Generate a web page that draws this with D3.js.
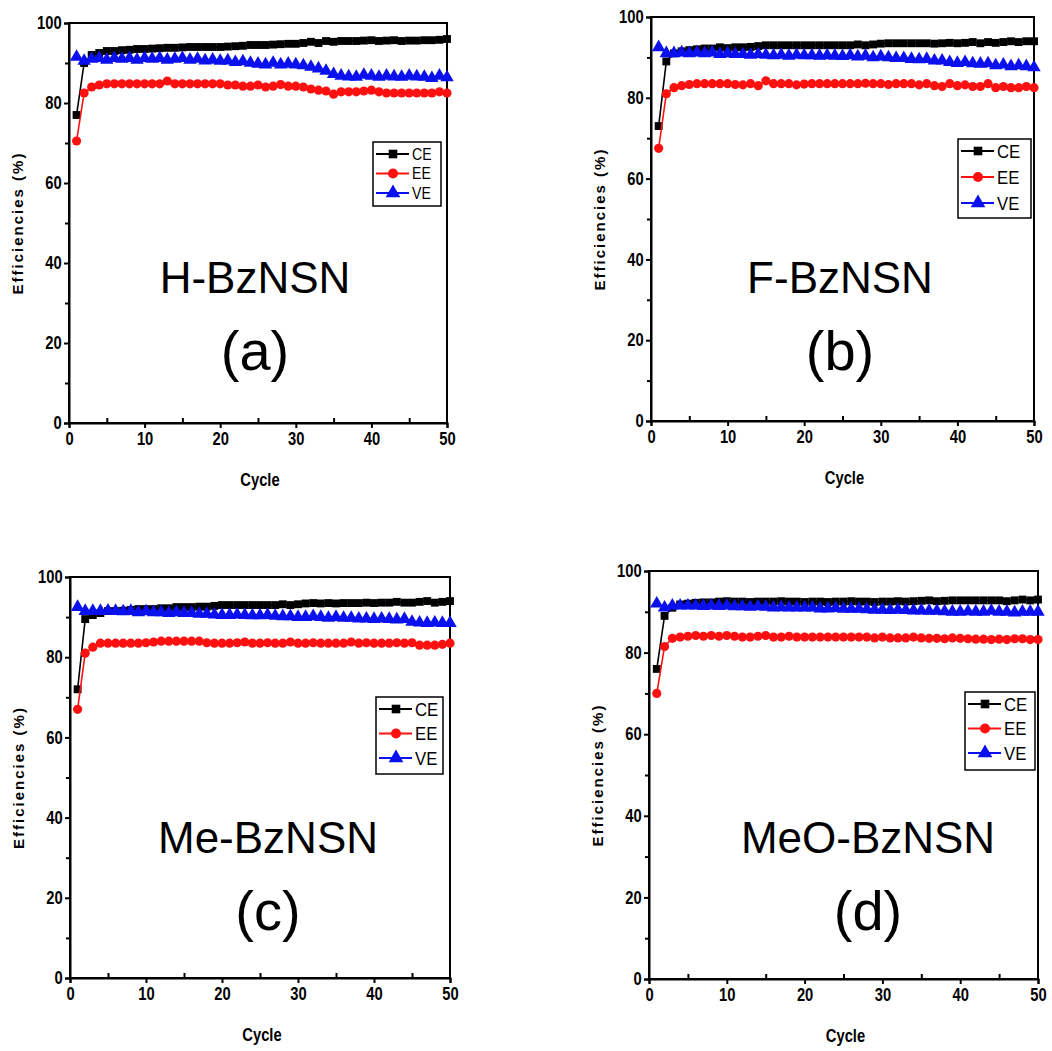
<!DOCTYPE html>
<html>
<head>
<meta charset="utf-8">
<script src="https://cdn.jsdelivr.net/npm/d3@7"></script>
<style>
body { margin: 0; background: #fff; }
svg { display: block; }
text { font-family: "Liberation Sans", Arial, sans-serif; }
</style>
</head>
<body>
<svg id="graphic" width="1052" height="1051"></svg>
<script>
var cycles = d3.range(1, 51);
var seriesNames = ["CE", "EE", "VE"];
var xTicks = [0, 10, 20, 30, 40, 50];
var yTicks = [0, 20, 40, 60, 80, 100];
var sampleNames = ["H-BzNSN", "F-BzNSN", "Me-BzNSN", "MeO-BzNSN"];
var panelTags = ["(a)", "(b)", "(c)", "(d)"];

// (a) H-BzNSN
var ceA = [77, 90, 92, 92.5, 93, 93, 93.2, 93.3, 93.5, 93.5, 93.6, 93.7, 93.8, 93.8, 93.9, 94, 94, 94, 94, 94,
	94.1, 94.2, 94.3, 94.5, 94.5, 94.5, 94.6, 94.7, 94.8, 94.8, 95, 95.3, 95, 95.5, 95.3, 95.5, 95.5, 95.5, 95.6, 95.7,
	95.5, 95.6, 95.7, 95.5, 95.6, 95.6, 95.7, 95.7, 95.8, 96];
var eeA = [70.5, 82.5, 84, 84.5, 84.8, 84.8, 84.8, 84.8, 84.8, 84.8, 84.8, 84.8, 85.5, 84.8, 84.8, 84.8, 84.8, 84.8, 84.8, 84.8,
	84.5, 84.5, 84.2, 84.2, 84.5, 84, 84.2, 84.6, 84.2, 84.2, 84, 83.5, 83.2, 83, 82.2, 82.8, 82.8, 82.8, 83, 83.2,
	82.8, 82.5, 82.5, 82.5, 82.5, 82.5, 82.5, 82.5, 82.8, 82.5];
var veA = [91.5, 90.5, 91, 91.2, 90.8, 91.2, 91, 91.2, 90.8, 91.2, 91, 91.2, 90.8, 91, 91.2, 90.8, 91, 90.6, 90.8, 90.5,
	90.6, 90.2, 90.4, 90, 89.8, 89.6, 90, 89.6, 89.8, 89.6, 89.4, 89, 88.6, 88, 87.2, 86.8, 86.6, 86.5, 87, 86.8,
	86.5, 86.8, 86.6, 86.5, 86.8, 86.6, 86.5, 86.2, 86.8, 86.4];

// (b) F-BzNSN
var ceB = [73, 89, 91, 91.5, 91.8, 92, 92.2, 92.2, 92.5, 92.3, 92.5, 92.5, 92.6, 92.8, 93, 93, 93, 93, 93, 93,
	93, 93, 93, 93, 93, 93, 93.2, 93, 93.2, 93.4, 93.5, 93.5, 93.5, 93.5, 93.5, 93.5, 93.4, 93.5, 93.6, 93.5,
	93.6, 93.8, 93.5, 93.8, 93.6, 93.8, 94, 93.8, 94, 94];
var eeB = [67.5, 81, 82.5, 83, 83.3, 83.5, 83.5, 83.5, 83.5, 83.5, 83.3, 83.2, 83.5, 83, 84.2, 83.5, 83.5, 83.5, 83.2, 83.4,
	83.5, 83.5, 83.5, 83.5, 83.5, 83.5, 83.5, 83.6, 83.5, 83.5, 83.3, 83.5, 83.5, 83.5, 83.2, 83.5, 83, 82.8, 83.5, 83,
	83.2, 82.8, 82.8, 83.5, 82.5, 82.8, 82.5, 82.5, 82.8, 82.5];
var veB = [92.5, 91, 91, 91.2, 91, 91.2, 91, 91.2, 90.8, 91, 90.8, 90.8, 90.6, 90.8, 90.6, 90.5, 90.6, 90.4, 90.6, 90.5,
	90.5, 90.4, 90.5, 90.4, 90.3, 90.5, 90.2, 90.4, 90, 90.2, 90, 89.8, 89.8, 89.6, 89.5, 89.6, 89.2, 89.2, 88.8, 88.6,
	88.8, 88.5, 88.4, 88.5, 88, 88.2, 87.8, 88, 87.8, 87.5];

// (c) Me-BzNSN
var ceC = [72, 89.5, 90.5, 91, 91.5, 91.5, 91.6, 91.8, 92, 92, 92, 92.2, 92.2, 92.5, 92.5, 92.5, 92.6, 92.6, 92.8, 93,
	93, 93, 93, 93, 93, 93, 93, 93.2, 93, 93.2, 93.4, 93.5, 93.4, 93.5, 93.4, 93.5, 93.5, 93.5, 93.6, 93.5,
	93.6, 93.6, 93.8, 93.6, 93.6, 93.8, 94, 93.6, 93.8, 94];
var eeC = [67, 81, 82.5, 83.5, 83.5, 83.5, 83.5, 83.5, 83.5, 83.6, 83.8, 84, 84, 84, 84, 84, 84, 83.6, 83.5, 83.5,
	83.5, 83.6, 83.8, 83.5, 83.5, 83.6, 83.5, 83.5, 83.8, 83.5, 83.5, 83.6, 83.5, 83.5, 83.5, 83.5, 83.8, 83.5, 83.6, 83.5,
	83.5, 83.5, 83.6, 83.5, 83.6, 83, 83, 83, 83.2, 83.5];
var veC = [92.5, 91.5, 91.5, 91.5, 91.6, 91.5, 91.4, 91.5, 91.2, 91.4, 91.2, 91.2, 91, 91.2, 91, 91, 90.8, 90.8, 90.6, 90.5,
	90.5, 90.6, 90.5, 90.4, 90.4, 90.5, 90.3, 90.2, 90.2, 90, 90, 90.2, 90, 89.8, 90, 89.8, 89.8, 89.6, 89.6, 89.5,
	89.6, 89.5, 89.4, 89.5, 88.8, 88.6, 88.5, 88.6, 88.5, 88.5];

// (d) MeO-BzNSN
var ceD = [76, 89, 91, 91.8, 92, 92.2, 92.3, 92.3, 92.5, 92.6, 92.5, 92.5, 92.4, 92.5, 92.5, 92.5, 92.6, 92.5, 92.5, 92.4,
	92.5, 92.5, 92.4, 92.5, 92.5, 92.6, 92.5, 92.5, 92.4, 92.5, 92.5, 92.6, 92.5, 92.6, 92.7, 92.8, 92.6, 92.7, 92.8, 92.8,
	92.8, 92.8, 92.8, 92.8, 92.8, 92.6, 92.8, 93, 92.8, 93];
var eeD = [70, 81.5, 83.5, 83.8, 84, 84.2, 84, 84.2, 84, 84.2, 84, 83.8, 83.8, 84, 84.2, 83.8, 83.8, 84, 83.8, 83.8,
	83.8, 83.8, 83.8, 83.8, 83.8, 83.8, 83.8, 83.8, 83.6, 83.8, 83.6, 83.6, 83.6, 83.8, 83.6, 83.5, 83.5, 83.4, 83.6, 83.5,
	83.4, 83.3, 83.3, 83.2, 83.3, 83.2, 83.4, 83.4, 83.2, 83.2];
var veD = [92, 91, 91.5, 91.5, 91.5, 91.5, 91.4, 91.5, 91.4, 91.5, 91.3, 91.3, 91.2, 91.3, 91.2, 91, 91.1, 91, 91, 91,
	91, 90.8, 90.8, 90.9, 90.7, 90.7, 90.7, 90.6, 90.5, 90.5, 90.4, 90.5, 90.4, 90.3, 90.3, 90.2, 90.2, 90.1, 90, 90,
	90.1, 90, 90, 90.2, 90, 90, 89.8, 90, 90, 90];

var panelData = [[ceA, eeA, veA], [ceB, eeB, veB], [ceC, eeC, veC], [ceD, eeD, veD]];

// layout per panel: plot box, titles and legend box
var layouts = [
	{ x0: 69, x1: 447, y0: 23, y1: 423, tx: 255, ty: 293, lx: 373, ly: 142, lw: 68, lh: 64, lstep: 19.5, lfs: 16 },
	{ x0: 651, x1: 1034, y0: 17, y1: 421, tx: 840, ty: 293, lx: 958, ly: 139, lw: 73, lh: 79, lstep: 26, lfs: 19 },
	{ x0: 70, x1: 450, y0: 577, y1: 978, tx: 268, ty: 853, lx: 376, ly: 697, lw: 67, lh: 77, lstep: 24.5, lfs: 19 },
	{ x0: 649, x1: 1038, y0: 571, y1: 979, tx: 868, ty: 853, lx: 965, ly: 692, lw: 70, lh: 78, lstep: 24.5, lfs: 19 }
];

var colors = { CE: "#000000", EE: "#ff1010", VE: "#0a10ee" };
var symbols = { CE: d3.symbolSquare, EE: d3.symbolCircle, VE: d3.symbolTriangle };
var symSize = { CE: 62, EE: 66, VE: 78 };
var NARROW = 0.82; // condensed look for small labels

var svg = d3.select("#graphic");

function drawPanel(i) {
	var L = layouts[i];
	var g = svg.append("g");

	var x = d3.scaleLinear().domain([0, 50]).range([L.x0, L.x1]);
	var y = d3.scaleLinear().domain([0, 100]).range([L.y1, L.y0]);

	// frame
	g.append("rect")
		.attr("x", L.x0).attr("y", L.y0)
		.attr("width", L.x1 - L.x0).attr("height", L.y1 - L.y0)
		.attr("fill", "none").attr("stroke", "#000").attr("stroke-width", 2);

	// axes
	g.append("g")
		.attr("transform", "translate(0," + L.y1 + ")")
		.call(d3.axisBottom(x).tickValues(xTicks).tickSize(5).tickPadding(4));
	g.append("g")
		.attr("transform", "translate(0," + L.y1 + ")")
		.call(d3.axisBottom(x).tickValues([5, 15, 25, 35, 45]).tickSize(-5).tickFormat(""))
		.select(".domain").remove();
	g.append("g")
		.attr("transform", "translate(" + L.x0 + ",0)")
		.call(d3.axisLeft(y).tickValues(yTicks).tickSize(5).tickPadding(4));
	g.append("g")
		.attr("transform", "translate(" + L.x0 + ",0)")
		.call(d3.axisLeft(y).tickValues([10, 30, 50, 70, 90]).tickSize(4).tickFormat(""))
		.select(".domain").remove();

	g.selectAll(".domain").attr("stroke-width", 2);
	g.selectAll(".tick line").attr("stroke-width", 2);
	g.selectAll(".tick text")
		.attr("font-size", 18).attr("font-weight", "bold")
		.attr("font-family", "'Liberation Sans', Arial, sans-serif")
		.attr("transform", "scale(" + NARROW + ",1)");

	// axis titles
	g.append("text")
		.attr("transform", "translate(" + ((L.x0 + L.x1) / 2 + 2) + "," + (L.y1 + 63) + ") scale(" + NARROW + ",1)")
		.attr("text-anchor", "middle").attr("font-size", 18).attr("font-weight", "bold")
		.text("Cycle");
	g.append("text")
		.attr("transform", "translate(" + (L.x0 - 46) + "," + ((L.y0 + L.y1) / 2) + ") rotate(-90)")
		.attr("text-anchor", "middle").attr("font-size", 15).attr("font-weight", "bold")
		.attr("letter-spacing", 2)
		.text("Efficiencies (%)");

	// series
	var line = d3.line()
		.x(function(d, k) { return x(cycles[k]); })
		.y(function(d) { return y(d); });

	for (var s = 0; s < seriesNames.length; s++) {
		var name = seriesNames[s];
		var vals = panelData[i][s];
		var sg = g.append("g");
		sg.append("path")
			.attr("d", line(vals))
			.attr("fill", "none").attr("stroke", colors[name]).attr("stroke-width", 1.6);
		sg.selectAll("path.mk")
			.data(vals)
			.enter().append("path")
				.attr("class", "mk")
				.attr("transform", function(d, k) { return "translate(" + x(cycles[k]) + "," + y(d) + ")"; })
				.attr("d", d3.symbol().type(symbols[name]).size(symSize[name]))
				.attr("fill", colors[name]);
	}

	// legend
	var lg = g.append("g");
	lg.append("rect")
		.attr("x", L.lx).attr("y", L.ly).attr("width", L.lw).attr("height", L.lh)
		.attr("fill", "#fff").attr("stroke", "#000").attr("stroke-width", 1.5);
	for (var s = 0; s < seriesNames.length; s++) {
		var name = seriesNames[s];
		var ry = L.ly + 12 + s * L.lstep;
		lg.append("line")
			.attr("x1", L.lx + 3).attr("x2", L.lx + 36)
			.attr("y1", ry).attr("y2", ry)
			.attr("stroke", colors[name]).attr("stroke-width", 1.8);
		lg.append("path")
			.attr("transform", "translate(" + (L.lx + 20) + "," + ry + ")")
			.attr("d", d3.symbol().type(symbols[name]).size(symSize[name] * 1.2))
			.attr("fill", colors[name]);
		lg.append("text")
			.attr("transform", "translate(" + (L.lx + 39) + "," + (ry + L.lfs * 0.36) + ") scale(0.88,1)")
			.attr("font-size", L.lfs)
			.text(name);
	}

	// sample name and tag
	g.append("text")
		.attr("x", L.tx).attr("y", L.ty)
		.attr("text-anchor", "middle").attr("font-size", 44)
		.text(sampleNames[i]);
	g.append("text")
		.attr("x", L.tx).attr("y", L.ty + 77)
		.attr("text-anchor", "middle").attr("font-size", 56)
		.text(panelTags[i]);
}

for (var i = 0; i < 4; i++) {
	drawPanel(i);
}
</script>
</body>
</html>
